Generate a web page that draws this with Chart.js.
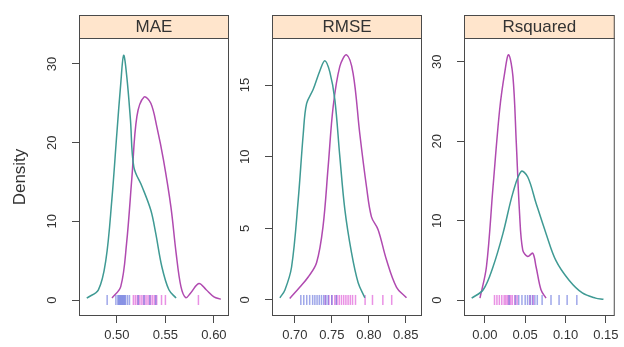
<!DOCTYPE html>
<html>
<head>
<meta charset="utf-8">
<script src="https://cdn.jsdelivr.net/npm/chart.js@4/dist/chart.umd.min.js"></script>
<style>
  html, body { margin: 0; padding: 0; background: #ffffff; }
  #wrap { position: relative; width: 624px; height: 347px; }
  #wrap canvas { position: absolute; left: 0; top: 0; }
</style>
</head>
<body>
<div id="wrap">
  <canvas id="c1" width="624" height="347"></canvas>
  <canvas id="c2" width="624" height="347"></canvas>
  <canvas id="c3" width="624" height="347"></canvas>
</div>
<script>
// ---------- data ----------
const panelTitles = ["MAE", "RMSE", "Rsquared"];
const yAxisTitle = "Density";

// MAE panel
const maeTealX = [0.469, 0.481, 0.4887, 0.4948, 0.500, 0.504, 0.507, 0.5103, 0.514, 0.5175, 0.526, 0.535, 0.540, 0.5464, 0.5536, 0.561];
const maeTealY = [0.25, 1.3, 5.1, 12.7, 21.2, 27.5, 31.1, 28.3, 22.9, 16.9, 14.4, 11.4, 8.5, 4.2, 1.3, 0.25];
const maeMagX = [0.495, 0.504, 0.510, 0.5155, 0.5206, 0.528, 0.535, 0.5412, 0.548, 0.5557, 0.561, 0.566, 0.571, 0.576, 0.5845, 0.592, 0.600, 0.607];
const maeMagY = [0.25, 1.7, 7.2, 15.6, 23.3, 25.8, 25.0, 22.0, 17.8, 11.8, 6.0, 1.7, 0.3, 0.9, 2.1, 1.3, 0.4, 0.1];
const maeTealRug = [0.490, 0.499, 0.501, 0.502, 0.503, 0.504, 0.505, 0.506, 0.507, 0.508, 0.509, 0.511, 0.513, 0.522, 0.528, 0.534, 0.540];
const maeMagRug = [0.517, 0.519, 0.521, 0.523, 0.525, 0.527, 0.529, 0.531, 0.533, 0.535, 0.537, 0.539, 0.541, 0.546, 0.550, 0.584];
const maeXTicks = [0.50, 0.55, 0.60];
const maeYTicks = [0, 10, 20, 30];

// RMSE panel
const rmseTealX = [0.6797, 0.6865, 0.6955, 0.7045, 0.7113, 0.7158, 0.7248, 0.7338, 0.7405, 0.7473, 0.754, 0.7608, 0.7676, 0.7766, 0.7856, 0.7946];
const rmseTealY = [0.15, 0.7, 2.3, 7.0, 11.6, 13.7, 14.7, 16.0, 16.7, 15.9, 14.0, 10.0, 6.3, 3.3, 1.2, 0.15];
const rmseMagX = [0.693, 0.7068, 0.718, 0.7293, 0.738, 0.745, 0.7518, 0.7608, 0.770, 0.7788, 0.7878, 0.7969, 0.8036, 0.8126, 0.8239, 0.8374, 0.851];
const rmseMagY = [0.1, 0.9, 1.6, 2.6, 5.1, 9.3, 13.5, 16.3, 17.1, 15.8, 11.6, 7.9, 5.8, 4.9, 2.8, 0.9, 0.15];
const rmseTealRug = [0.708, 0.712, 0.716, 0.720, 0.724, 0.727, 0.730, 0.733, 0.736, 0.739, 0.742, 0.745, 0.750, 0.756];
const rmseMagRug = [0.741, 0.746, 0.750, 0.754, 0.757, 0.760, 0.763, 0.766, 0.769, 0.772, 0.775, 0.778, 0.782, 0.795, 0.805, 0.819, 0.831];
const rmseXTicks = [0.70, 0.75, 0.80, 0.85];
const rmseYTicks = [0, 5, 10, 15];

// Rsquared panel
const rsqTealX = [-0.0163, -0.002, 0.0102, 0.0225, 0.0348, 0.045, 0.0532, 0.0635, 0.0758, 0.088, 0.1044, 0.1208, 0.1372, 0.147];
const rsqTealY = [0.25, 1.3, 4.2, 8.4, 13.5, 16.2, 15.5, 12.2, 8.4, 5.0, 2.5, 0.9, 0.25, 0.1];
const rsqMagX = [-0.006, 0.002, 0.0102, 0.0184, 0.0246, 0.0295, 0.0348, 0.039, 0.043, 0.047, 0.0532, 0.0594, 0.0635, 0.0696, 0.0758];
const rsqMagY = [0.25, 4.2, 14.3, 24.0, 28.6, 30.9, 28.2, 19.8, 11.0, 6.3, 5.5, 5.9, 4.2, 1.3, 0.25];
const rsqTealRug = [0.030, 0.038, 0.042, 0.046, 0.050, 0.053, 0.056, 0.059, 0.062, 0.065, 0.071, 0.082, 0.092, 0.102, 0.114];
const rsqMagRug = [0.012, 0.015, 0.018, 0.021, 0.024, 0.026, 0.028, 0.030, 0.032, 0.034, 0.037, 0.040, 0.056, 0.060];
const rsqXTicks = [0.00, 0.05, 0.10, 0.15];
const rsqYTicks = [0, 10, 20, 30];

// ---------- styling ----------
const TEAL = "#3f9a94";
const MAG = "#b04ab0";
const RUG_TEAL = "rgba(80,95,215,0.55)";
const RUG_MAG = "rgba(215,55,205,0.55)";
const FRAME = "#4a4a4a";
const STRIP_BG = "#ffe5cc";
const FONT = "'Liberation Sans', Arial, sans-serif";

function pts(xs, ys) { return xs.map((x, i) => ({ x: x, y: ys[i] })); }
function rug(xs) { return xs.map(x => ({ x: x, y: 0 })); }

const framePlugin = {
  id: 'frame',
  afterDraw(chart, args, opts) {
    const { ctx, chartArea: a } = chart;
    ctx.save();
    // strip
    const st = opts.stripTop, sb = a.top;
    ctx.fillStyle = STRIP_BG;
    ctx.fillRect(a.left, st, a.right - a.left, sb - st);
    ctx.strokeStyle = FRAME;
    ctx.lineWidth = 1;
    ctx.strokeRect(a.left + 0.5, st + 0.5, a.right - a.left - 1, sb - st);
    ctx.fillStyle = "#333333";
    ctx.font = "17px " + FONT;
    ctx.textAlign = "center";
    ctx.textBaseline = "middle";
    ctx.fillText(opts.title, (a.left + a.right) / 2, (st + sb) / 2 + 1);
    // panel box
    ctx.strokeRect(a.left + 0.5, a.top + 0.5, a.right - a.left - 1, a.bottom - a.top - 1);
    ctx.restore();
  }
};

function makePanel(id, p) {
  const yW = p.yW, xH = 30;
  const datasets = [
    { data: pts(p.tealX, p.tealY), showLine: true, borderColor: TEAL, borderWidth: 1.5, pointRadius: 0, tension: 0.35, fill: false },
    { data: pts(p.magX, p.magY), showLine: true, borderColor: MAG, borderWidth: 1.5, pointRadius: 0, tension: 0.35, fill: false },
    { data: rug(p.tealRug), showLine: false, pointStyle: 'line', rotation: 90, pointRadius: 5, borderColor: RUG_TEAL, borderWidth: 1.5, backgroundColor: RUG_TEAL },
    { data: rug(p.magRug), showLine: false, pointStyle: 'line', rotation: 90, pointRadius: 5, borderColor: RUG_MAG, borderWidth: 1.5, backgroundColor: RUG_MAG }
  ];
  return new Chart(document.getElementById(id), {
    type: 'scatter',
    data: { datasets: datasets },
    options: {
      responsive: false,
      devicePixelRatio: 1,
      animation: false,
      events: [],
      layout: { padding: { left: p.L - yW, right: 624 - p.R, top: 38, bottom: 347 - 316 - xH } },
      plugins: {
        legend: { display: false },
        tooltip: { enabled: false },
        frame: { title: p.title, stripTop: 15 }
      },
      scales: {
        x: {
          type: 'linear',
          min: p.xmin, max: p.xmax,
          afterBuildTicks: s => { s.ticks = p.xTicks.map(v => ({ value: v })); },
          afterFit: s => { s.height = xH; },
          ticks: { color: "#333333", font: { size: 13, family: FONT }, padding: 5, callback: v => Number(v).toFixed(2), autoSkip: false, maxRotation: 0 },
          grid: { drawOnChartArea: false, drawTicks: true, tickLength: 7, color: FRAME, tickColor: FRAME },
          border: { display: false }
        },
        y: {
          type: 'linear',
          min: p.ymin, max: p.ymax,
          afterBuildTicks: s => { s.ticks = p.yTicks.map(v => ({ value: v })); },
          afterFit: s => { s.width = yW; },
          ticks: { color: "#333333", font: { size: 13, family: FONT }, padding: 12, minRotation: 90, maxRotation: 90, crossAlign: 'center', autoSkip: false, callback: v => String(v) },
          grid: { drawOnChartArea: false, drawTicks: true, tickLength: 7, color: FRAME, tickColor: FRAME },
          border: { display: false },
          title: { display: !!p.yTitle, text: p.yTitle || "", color: "#333333", font: { size: 17, family: FONT }, padding: { top: 10, bottom: 0 } }
        }
      }
    },
    plugins: [framePlugin]
  });
}

makePanel('c1', {
  title: panelTitles[0], yTitle: yAxisTitle, L: 79, R: 229, yW: 79,
  xmin: 0.461, xmax: 0.6155, ymin: -2.03, ymax: 33.3,
  tealX: maeTealX, tealY: maeTealY, magX: maeMagX, magY: maeMagY,
  tealRug: maeTealRug, magRug: maeMagRug, xTicks: maeXTicks, yTicks: maeYTicks
});
makePanel('c2', {
  title: panelTitles[1], L: 272, R: 422, yW: 45,
  xmin: 0.669, xmax: 0.872, ymin: -1.12, ymax: 18.28,
  tealX: rmseTealX, tealY: rmseTealY, magX: rmseMagX, magY: rmseMagY,
  tealRug: rmseTealRug, magRug: rmseMagRug, xTicks: rmseXTicks, yTicks: rmseYTicks
});
makePanel('c3', {
  title: panelTitles[2], L: 464, R: 616, yW: 45,
  xmin: -0.0258, xmax: 0.161, ymin: -2.0, ymax: 33.0,
  tealX: rsqTealX, tealY: rsqTealY, magX: rsqMagX, magY: rsqMagY,
  tealRug: rsqTealRug, magRug: rsqMagRug, xTicks: rsqXTicks, yTicks: rsqYTicks
});
</script>
</body>
</html>
